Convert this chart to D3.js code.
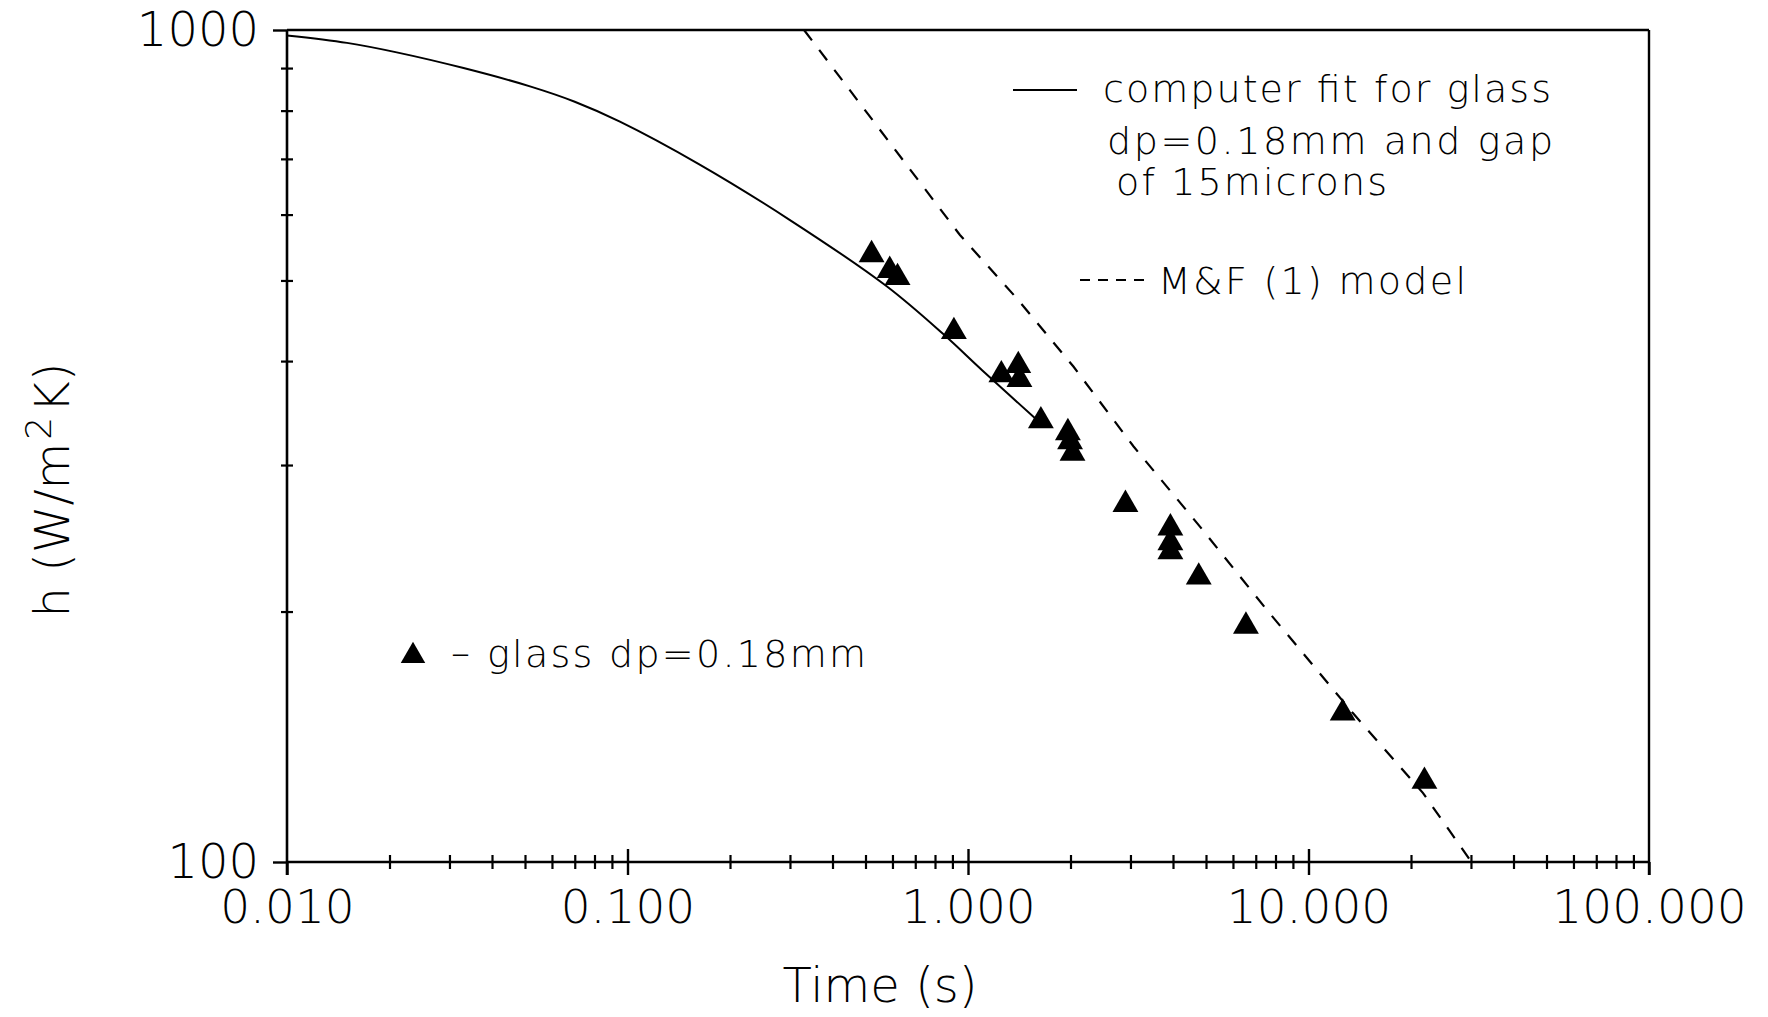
<!DOCTYPE html>
<html><head><meta charset="utf-8">
<script src="https://cdn.jsdelivr.net/npm/d3@7"></script>
<style>
html,body{margin:0;padding:0;background:#fff;}
svg{display:block;background:#fff;}
text{font-family:"DejaVu Sans",sans-serif;fill:#000;font-weight:300;}
</style></head><body>
<svg id="chart" width="1768" height="1017"></svg>
<script>
// ---- data ----
const xMajor = [0.01, 0.1, 1, 10, 100];
const xLabels = ["0.010", "0.100", "1.000", "10.000", "100.000"];
const yMajor = [100, 1000];
const yLabels = ["100", "1000"];

// computer fit (solid line)
const fitTime = [0.010, 0.015, 0.021, 0.033, 0.052, 0.070, 0.095, 0.162, 0.30, 0.577, 0.846, 1.10, 1.58];
const fitH    = [985,   965,   940,   900,   855,   820,   776,   690,   591,  492,   431,   390,  341];

// M&F (1) model (dashed line)
const mfTime = [0.33, 0.947, 1.39, 2.04, 3.06, 4.80, 7.54, 13.5, 21.7, 30.1];
const mfH    = [1000, 567,   476,  394,  316,  253,  201,  151,  121,  100];

// glass dp=0.18mm measurements (triangles)
const expTime = [0.521, 0.589, 0.621, 0.909, 1.253, 1.405, 1.416, 1.637, 1.965, 1.994, 2.027, 2.90, 3.93, 3.93, 3.93, 4.76, 6.55, 12.6, 21.9];
const expH    = [537,   514,   504,   434,   385,   395,   380,   339,   328,   320,   310,   269,  252,  242,  236,  220,  192,  151,  125];

// ---- chart ----
const svg = d3.select("#chart");
const x = d3.scaleLog().domain([0.01, 100]).range([287, 1649]);
const y = d3.scaleLog().domain([100, 1000]).range([862, 30]);
const X0 = x.range()[0], X1 = x.range()[1], Y0 = y.range()[0], Y1 = y.range()[1];

const isMajor = (arr, v) => arr.some(m => Math.abs(m - v) / m < 1e-6);
const minorX = x.ticks().filter(v => !isMajor(xMajor, v));
const minorY = y.ticks().filter(v => !isMajor(yMajor, v));

function styleAxis(g, w) {
  g.attr("font-size", null).attr("font-family", null);
  g.select(".domain").remove();
  g.selectAll(".tick line").attr("stroke", "#000").attr("stroke-width", w);
}

// x minor ticks crossing the axis
svg.append("g").attr("transform", `translate(0,${Y0})`)
  .call(d3.axisBottom(x).tickValues(minorX).tickSize(7).tickFormat(""))
  .call(g => styleAxis(g, 2.2));
svg.append("g").attr("transform", `translate(0,${Y0})`)
  .call(d3.axisTop(x).tickValues(minorX).tickSize(7).tickFormat(""))
  .call(g => styleAxis(g, 2.2));
// x major ticks + labels
svg.append("g").attr("transform", `translate(0,${Y0})`)
  .call(d3.axisBottom(x).tickValues(xMajor).tickSize(13).tickPadding(15).tickFormat((d, i) => xLabels[i]))
  .call(g => { styleAxis(g, 2.4); g.selectAll("text").attr("font-size", 47); });
svg.append("g").attr("transform", `translate(0,${Y0})`)
  .call(d3.axisTop(x).tickValues(xMajor.slice(1, -1)).tickSize(13).tickFormat(""))
  .call(g => styleAxis(g, 2.4));

// y minor ticks crossing the axis
svg.append("g").attr("transform", `translate(${X0},0)`)
  .call(d3.axisLeft(y).tickValues(minorY).tickSize(6).tickFormat(""))
  .call(g => styleAxis(g, 2.2));
svg.append("g").attr("transform", `translate(${X0},0)`)
  .call(d3.axisRight(y).tickValues(minorY).tickSize(6).tickFormat(""))
  .call(g => styleAxis(g, 2.2));
// y major ticks + labels
svg.append("g").attr("transform", `translate(${X0},0)`)
  .call(d3.axisLeft(y).tickValues(yMajor).tickSize(14).tickPadding(14).tickFormat((d, i) => yLabels[i]))
  .call(g => { styleAxis(g, 2.4); g.selectAll("text").attr("font-size", 48); });

// frame
const frame = svg.append("g").attr("stroke", "#000").attr("fill", "none");
frame.append("line").attr("x1", X0).attr("x2", X0).attr("y1", Y1).attr("y2", Y0 + 13).attr("stroke-width", 2.6);
frame.append("line").attr("x1", X0).attr("x2", X1).attr("y1", Y0).attr("y2", Y0).attr("stroke-width", 2.4);
frame.append("line").attr("x1", X0).attr("x2", X1).attr("y1", Y1).attr("y2", Y1).attr("stroke-width", 2.4);
frame.append("line").attr("x1", X1).attr("x2", X1).attr("y1", Y1).attr("y2", Y0 + 13).attr("stroke-width", 2.4);

// curves
svg.append("path")
  .datum(fitTime.map((t, i) => [t, fitH[i]]))
  .attr("d", d3.line().x(d => x(d[0])).y(d => y(d[1])).curve(d3.curveCatmullRom.alpha(0.5)))
  .attr("fill", "none").attr("stroke", "#000").attr("stroke-width", 2);
svg.append("path")
  .datum(mfTime.map((t, i) => [t, mfH[i]]))
  .attr("d", d3.line().x(d => x(d[0])).y(d => y(d[1])))
  .attr("fill", "none").attr("stroke", "#000").attr("stroke-width", 2.2)
  .attr("stroke-dasharray", "13,12");

// triangles
const tri = d3.symbol(d3.symbolTriangle, 290);
svg.append("g").selectAll("path")
  .data(expTime.map((t, i) => [t, expH[i]]))
  .join("path")
  .attr("d", tri)
  .attr("transform", d => `translate(${x(d[0])},${y(d[1])})`)
  .attr("fill", "#000");

// axis titles
svg.append("text").attr("x", 880).attr("y", 1002).attr("text-anchor", "middle")
  .attr("font-size", 48).text("Time (s)");
const yt = svg.append("text").attr("transform", "translate(69,490) rotate(-90)")
  .attr("text-anchor", "middle").attr("font-size", 48);
yt.append("tspan").text("h (W/m");
yt.append("tspan").attr("font-size", 36).attr("dy", -18).attr("dx", 3).text("2");
yt.append("tspan").attr("dy", 18).attr("dx", 4).text("K)");

// legend (top right)
const leg = svg.append("g");
leg.append("line").attr("x1", 1013).attr("x2", 1077).attr("y1", 90).attr("y2", 90)
  .attr("stroke", "#000").attr("stroke-width", 2);
leg.append("text").attr("x", 1103).attr("y", 102).attr("font-size", 38)
  .attr("textLength", 448).attr("lengthAdjust", "spacing").text("computer fit for glass");
leg.append("text").attr("x", 1107).attr("y", 154).attr("font-size", 38)
  .attr("textLength", 446).attr("lengthAdjust", "spacing").text("dp=0.18mm and gap");
leg.append("text").attr("x", 1116).attr("y", 195).attr("font-size", 38)
  .attr("textLength", 271).attr("lengthAdjust", "spacing").text("of 15microns");
leg.append("line").attr("x1", 1080).attr("x2", 1152).attr("y1", 280).attr("y2", 280)
  .attr("stroke", "#000").attr("stroke-width", 2).attr("stroke-dasharray", "10,8");
leg.append("text").attr("x", 1158).attr("y", 294).attr("font-size", 38)
  .attr("textLength", 308).attr("lengthAdjust", "spacing").text("M&F (1) model");

// legend (lower left)
leg.append("path").attr("d", d3.symbol(d3.symbolTriangle, 260)())
  .attr("transform", "translate(413,656)").attr("fill", "#000");
leg.append("text").attr("x", 451).attr("y", 666).attr("font-size", 38).text("–");
leg.append("text").attr("x", 487).attr("y", 667).attr("font-size", 38)
  .attr("textLength", 379).attr("lengthAdjust", "spacing").text("glass dp=0.18mm");
</script>
</body></html>
